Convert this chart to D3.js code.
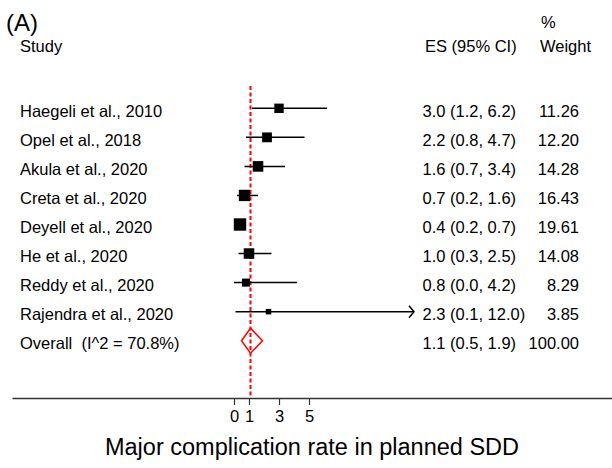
<!DOCTYPE html>
<html>
<head>
<meta charset="utf-8">
<script src="https://cdn.jsdelivr.net/npm/d3@7"></script>
<style>
  html, body { margin: 0; padding: 0; background: #fff; }
  svg { display: block; }
  text { font-family: "Liberation Sans", Arial, sans-serif; fill: #000; white-space: pre; }
</style>
</head>
<body>
<svg id="chart" width="612" height="468"></svg>
<script>
// ---- data ----
const studies = ["Haegeli et al., 2010", "Opel et al., 2018", "Akula et al., 2020", "Creta et al., 2020",
                 "Deyell et al., 2020", "He et al., 2020", "Reddy et al., 2020", "Rajendra et al., 2020"];
const es      = [3.0, 2.2, 1.6, 0.7, 0.4, 1.0, 0.8, 2.3];
const ciLow   = [1.2, 0.8, 0.7, 0.2, 0.2, 0.3, 0.0, 0.1];
const ciHigh  = [6.2, 4.7, 3.4, 1.6, 0.7, 2.5, 4.2, 12.0];
const weights = [11.26, 12.20, 14.28, 16.43, 19.61, 14.08, 8.29, 3.85];
const overallLabel = "Overall  (I^2 = 70.8%)";
const overall = { es: 1.1, lo: 0.5, hi: 1.9, weight: 100.00 };
const tickValues = [0, 1, 3, 5];
const xTitle = "Major complication rate in planned SDD";

// ---- layout ----
const svg = d3.select("#chart");
const x = d3.scaleLinear().domain([-14.8, 25.2]).range([12, 612]);
const y = d3.scaleLinear().domain([0, 8]).range([108.3, 340.7]);
const axisY = 398;
const fs = 16.5;
const fmt1 = d3.format(".1f"), fmt2 = d3.format(".2f");
const sideScale = d3.scaleSqrt().domain([0, 19.61]).range([0, 12.4]);

// headers
svg.append("text").attr("x", 6).attr("y", 31).attr("font-size", 24).text("(A)");
svg.append("text").attr("x", 541).attr("y", 28).attr("font-size", fs).text("%");
svg.append("text").attr("x", 20).attr("y", 52).attr("font-size", fs).text("Study");
svg.append("text").attr("x", 425).attr("y", 52).attr("font-size", fs).text("ES (95% CI)");
svg.append("text").attr("x", 540).attr("y", 52).attr("font-size", fs).text("Weight");

// reference line at overall estimate
svg.append("line")
  .attr("x1", x(overall.es)).attr("x2", x(overall.es))
  .attr("y1", 86).attr("y2", axisY)
  .attr("stroke", "#ff0000").attr("stroke-width", 2)
  .attr("stroke-dasharray", "4,2.5");

// study rows
const rows = studies.map((s, i) => ({ s, es: es[i], lo: ciLow[i], hi: ciHigh[i], w: weights[i], i }));
const capHi = 12.0;
const g = svg.append("g");
rows.forEach(d => {
  const yy = y(d.i);
  const hiEnd = Math.min(d.hi, capHi);
  g.append("line").attr("x1", x(d.lo)).attr("x2", x(hiEnd)).attr("y1", yy).attr("y2", yy)
    .attr("stroke", "#000").attr("stroke-width", 1.5);
  if (d.hi >= capHi) {
    const xe = x(hiEnd);
    g.append("path").attr("d", `M${xe - 5},${yy - 6} L${xe},${yy} L${xe - 5},${yy + 6}`)
      .attr("fill", "none").attr("stroke", "#000").attr("stroke-width", 1.5);
  }
  const side = sideScale(d.w);
  g.append("rect").attr("x", x(d.es) - side / 2).attr("y", yy - side / 2)
    .attr("width", side).attr("height", side).attr("fill", "#000");
  g.append("text").attr("x", 20).attr("y", yy + 8.4).attr("font-size", fs).text(d.s);
  g.append("text").attr("x", 422.5).attr("y", yy + 8.4).attr("font-size", fs)
    .text(`${fmt1(d.es)} (${fmt1(d.lo)}, ${fmt1(d.hi)})`);
  g.append("text").attr("x", 579).attr("y", yy + 8.4).attr("font-size", fs).attr("text-anchor", "end")
    .text(fmt2(d.w));
});

// overall diamond
const yo = y(8);
svg.append("path")
  .attr("d", `M${x(overall.lo)},${yo} L${x(overall.es)},${yo - 12.5} L${x(overall.hi)},${yo} L${x(overall.es)},${yo + 12.5} Z`)
  .attr("fill", "none").attr("stroke", "#ff0000").attr("stroke-width", 1.5);
svg.append("text").attr("x", 20).attr("y", yo + 8.4).attr("font-size", fs)
  .attr("xml:space", "preserve").text(overallLabel);
svg.append("text").attr("x", 422.5).attr("y", yo + 8.4).attr("font-size", fs)
  .text(`${fmt1(overall.es)} (${fmt1(overall.lo)}, ${fmt1(overall.hi)})`);
svg.append("text").attr("x", 579).attr("y", yo + 8.4).attr("font-size", fs).attr("text-anchor", "end")
  .text(fmt2(overall.weight));

// x axis
const axis = d3.axisBottom(x).tickValues(tickValues).tickSizeOuter(0).tickSizeInner(7).tickPadding(5)
  .tickFormat(d3.format("d"));
const ax = svg.append("g").attr("transform", `translate(0,${axisY})`).call(axis);
ax.select(".domain").attr("stroke", "#333").attr("stroke-width", 1.5);
ax.selectAll(".tick line").attr("stroke", "#333").attr("stroke-width", 1.2);
ax.selectAll(".tick text").attr("font-size", fs).attr("font-family", "Liberation Sans, Arial, sans-serif").attr("fill", "#000");

svg.append("text").attr("x", 312).attr("y", 455).attr("text-anchor", "middle").attr("font-size", 23.5)
  .text(xTitle);
</script>
</body>
</html>
